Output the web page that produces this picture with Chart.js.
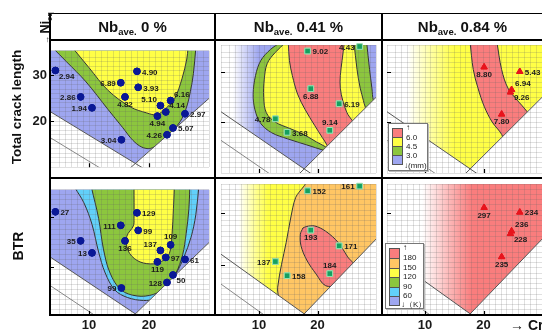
<!DOCTYPE html>
<html lang="en">
<head>
<meta charset="UTF-8">
<title>Total crack length and BTR maps</title>
<script src="https://cdn.jsdelivr.net/npm/chart.js"></script>
<style>
  body { margin: 0; width: 542px; height: 331px; overflow: hidden; position: relative; background: #fff;
         font-family: "Liberation Sans", Arial, sans-serif; color: #111; }
  canvas { position: absolute; z-index: 1; }
  .rule { position: absolute; background: #000; z-index: 2; }
  .head { position: absolute; top: 14px; height: 25px; line-height: 25px; text-align: center;
          font-weight: bold; font-size: 15px; z-index: 2; }
  .head sub { font-size: 9.5px; vertical-align: -3px; line-height: 0; }
  .vt { position: absolute; transform: rotate(-90deg); white-space: nowrap; font-weight: bold;
        text-align: center; z-index: 2; }
  .vt sub { font-size: 7.5px; vertical-align: -3px; line-height: 0; }
  .key { position: absolute; background: #fff; border: 1px solid #777; box-shadow: 1px 1px 0 #bbb;
         font-size: 8px; z-index: 3; }
  .key .sw { position: absolute; left: 3px; width: 11px; border: 1px solid #555; box-sizing: border-box; }
  .key .tx { position: absolute; left: 17px; line-height: 8px; white-space: nowrap; color: #222; }
</style>
</head>
<body>

<!-- frame -->
<div class="rule" style="left:49px;top:13px;width:493px;height:1px"></div>
<div class="rule" style="left:49px;top:39px;width:493px;height:2px"></div>
<div class="rule" style="left:49px;top:177px;width:493px;height:2px"></div>
<div class="rule" style="left:49px;top:314px;width:493px;height:2px"></div>
<div class="rule" style="left:49px;top:13px;width:2px;height:303px"></div>
<div class="rule" style="left:214px;top:13px;width:2px;height:303px"></div>
<div class="rule" style="left:381px;top:13px;width:2px;height:303px"></div>

<div class="head" style="left:51px;width:163px">Nb<sub>ave.</sub> 0 %</div>
<div class="head" style="left:216px;width:165px">Nb<sub>ave.</sub> 0.41 %</div>
<div class="head" style="left:383px;width:159px">Nb<sub>ave.</sub> 0.84 %</div>

<div class="vt" style="left:-53px;top:99px;width:140px;height:16px;line-height:16px;font-size:13.5px">Total crack length</div>
<div class="vt" style="left:27px;top:21px;width:36px;height:14px;line-height:14px;font-size:12.5px"><span style="font-size:8px">&rarr;</span>&thinsp;Ni<sub>eq</sub></div>
<div class="vt" style="left:-2px;top:238px;width:40px;height:16px;line-height:16px;font-size:14px">BTR</div>
<div style="position:absolute;left:510px;top:317px;font-weight:bold;font-size:14px;white-space:nowrap;z-index:2">&rarr; Cr<sub style="font-size:9px">eq</sub></div>

<!-- colour keys -->
<div class="key" style="left:388px;top:123px;width:38px;height:46px">
  <span class="sw" style="top:4px;height:10px;background:rgb(250,125,125)"></span>
  <span class="sw" style="top:13px;height:10px;background:rgb(255,255,70)"></span>
  <span class="sw" style="top:22px;height:10px;background:rgb(140,198,62)"></span>
  <span class="sw" style="top:31px;height:10px;background:rgb(158,166,240)"></span>
  <span class="tx" style="top:0px">&uarr;</span>
  <span class="tx" style="top:10px">6.0</span>
  <span class="tx" style="top:19px">4.5</span>
  <span class="tx" style="top:28px">3.0</span>
  <span class="tx" style="top:38px;left:15px">&darr;(mm)</span>
</div>
<div class="key" style="left:385px;top:243px;width:37px;height:64px">
  <span class="sw" style="top:4px;height:11px;background:rgb(250,125,125)"></span>
  <span class="sw" style="top:14px;height:11px;background:rgb(255,198,100)"></span>
  <span class="sw" style="top:24px;height:10px;background:rgb(255,255,70)"></span>
  <span class="sw" style="top:33px;height:11px;background:rgb(140,198,62)"></span>
  <span class="sw" style="top:43px;height:10px;background:rgb(98,208,250)"></span>
  <span class="sw" style="top:52px;height:10px;background:rgb(158,166,240)"></span>
  <span class="tx" style="top:0px">&uarr;</span>
  <span class="tx" style="top:10px">180</span>
  <span class="tx" style="top:20px">150</span>
  <span class="tx" style="top:29px">120</span>
  <span class="tx" style="top:39px">90</span>
  <span class="tx" style="top:48px">60</span>
  <span class="tx" style="top:57px;left:15px">&darr;（K）</span>
</div>

<script>
// axes
const creqRange = [3.5, 30];
const nieqRangeCrack = [9.9, 35.4];
const nieqRangeBtr = [10.5, 35.5];
const creqTicks = [10, 20];
const nieqTicks = [20, 30];

// specimens, Nb 0 %
const creqNb0 = [4.4, 8.6, 10.5, 15.3, 18.0, 18.2, 16.0, 21.9, 23.6, 22.8, 21.4, 26.0, 24.0, 23.0, 15.4];
const nieqNb0 = [31.1, 25.3, 22.9, 28.4, 30.9, 27.4, 25.3, 23.4, 24.5, 22.0, 21.1, 21.6, 18.5, 17.0, 15.9];
const crackNb0 = [2.94, 2.86, 1.94, 6.89, 4.90, 3.93, 4.82, 5.10, 6.16, 4.14, 4.94, 2.97, 5.07, 4.26, 3.04];
const btrNb0 = [27, 35, 13, 111, 129, 99, 136, 137, 109, 97, 119, 61, 50, 128, 99];

// specimens, Nb 0.41 %
const creqNb041 = [18.3, 27.2, 18.85, 23.7, 12.8, 14.8, 22.1];
const nieqNb041 = [34.2, 35.1, 26.7, 23.7, 20.7, 18.0, 18.4];
const crackNb041 = [9.02, 4.43, 6.88, 6.19, 4.78, 3.68, 9.14];
const btrNb041 = [152, 161, 193, 171, 137, 158, 184];

// specimens, Nb 0.84 %
const creqNb084 = [20.1, 26.2, 24.8, 24.6, 23.1];
const nieqNb084 = [31.0, 30.1, 26.5, 26.0, 21.6];
const crackNb084 = [8.80, 5.43, 6.94, 9.26, 7.80];
const btrNb084 = [297, 234, 236, 228, 235];

// limit lines of the diagram and the area they close off
const vRegion = [[3, 22.5], [17.7, 10.7], [30.5, 25.55], [30.5, 40], [3, 40]];
const belowV = [[3, 22.5], [17.7, 10.7], [30.5, 25.55], [30.5, 0], [3, 0]];
const armLeft = [[3, 22.5], [19.5, 9.3]];
const armRight = [[16.5, 9.3], [30.5, 25.55]];
const guideLine = [[3, 16.8], [15, 7.2]];

// contour boundaries [Cr_eq, Ni_eq]
const tlGreen = [[4.0, 36], [6.25, 33.0], [9.5, 28.6], [13.2, 22.5], [15.6, 18.6], [17.3, 15.8], [18.8, 14.3], [20.2, 14.0], [21.5, 14.9], [22.8, 16.5], [24.0, 18.0], [25.2, 19.9], [26.2, 22.8], [26.9, 26.5], [27.4, 30.4], [27.8, 36]];
const tlYellow = [[7.3, 36], [10.0, 31.7], [13.2, 26.7], [16.9, 23.1], [19.6, 21.8], [21.3, 21.4], [22.9, 22.9], [24.3, 25.0], [25.5, 29.3], [26.3, 33.6], [26.5, 36]];

const tmGreen = [[13.8, 36], [11.95, 34.5], [10.3, 32.3], [9.4, 29.3], [9.0, 25.6], [9.3, 22.5], [10.3, 19.75], [12.2, 17.9], [14.9, 16.7], [18.15, 15.5], [21.1, 14.4], [25, 13], [30.5, 22], [29.56, 24.35], [29.3, 26.8], [28.9, 30.5], [28.4, 36]];
const tmYellow = [[14.65, 36], [12.76, 33.9], [11.4, 31.7], [10.9, 28.6], [10.8, 25.0], [11.25, 21.9], [12.76, 20.06], [15.2, 18.8], [17.6, 17.6], [19.8, 16.1], [21.4, 15.1], [24, 13], [28.5, 20], [27.84, 24.35], [27.3, 26.8], [26.76, 30.5], [26.23, 36]];
const tmRed = [[15.0, 36], [15.2, 32.3], [15.7, 29.3], [16.6, 25.6], [17.9, 22.5], [19.5, 19.4], [20.8, 17.0], [21.6, 15.5], [22.3, 13.5], [26.5, 18.5], [25.0, 22.0], [24.3, 24.4], [23.9, 26.8], [23.9, 29.3], [24.2, 32.3], [24.6, 36]];

const trRed = [[17.7, 36], [18.25, 30.5], [19.06, 26.8], [20.14, 23.1], [21.48, 20.06], [23.1, 17.6], [24, 15], [28.5, 20], [27.4, 22.2], [25.8, 24.35], [24.18, 26.8], [23.1, 30.5], [22.29, 36]];

const blCyan = [[7.6, 36], [9.15, 32.9], [10.5, 28.6], [11.6, 23.1], [12.7, 18.9], [14.3, 15.5], [16.4, 14.0], [19.1, 13.4], [21.0, 13.8], [22.5, 15.5], [23.8, 17.5], [24.8, 19.4], [25.8, 22.0], [27.0, 26.0], [27.8, 30.5], [28.3, 36]];
const blGreen = [[10.4, 36], [11.6, 29.8], [12.4, 23.7], [13.5, 18.9], [15.35, 15.5], [18.0, 14.3], [20.7, 14.6], [22.9, 16.1], [24.5, 18.9], [25.6, 22.5], [26.2, 26.8], [26.65, 31.7], [26.8, 36]];
const blYellow = [[17.5, 36], [17.5, 29.8], [17.4, 28.3], [16.3, 26.2], [16.5, 23.4], [18.0, 21.4], [20.2, 20.7], [22.1, 21.2], [23.4, 22.8], [23.85, 26.8], [24.07, 31.7], [24.23, 36]];

const bmYellow = [[3, 36], [17.8, 36], [16.26, 32.9], [15.45, 29.2], [14.65, 24.35], [13.84, 20.1], [13.19, 15.8], [13, 12], [3, 12]];
const bmRed = [[17.5, 27.1], [18.15, 27.4], [19.5, 27.5], [21.38, 26.5], [23.53, 24.35], [25.15, 21.6], [26.23, 19.8], [23.53, 16.4], [21.38, 16.1], [19.77, 18.3], [18.15, 21.0], [17.18, 23.7], [17.07, 25.9], [17.5, 27.1]];

// label placement beside each mark
const crackPos0 = ['br', 'l', 'l', 'l', 'r', 'r', 'b', 'tl', 'tr', 'tr', 'b', 'r', 'r', 'l', 'l'];
const btrPos0 = ['r', 'l', 'l', 'l', 'r', 'r', 'b', 'tl', 't', 'r', 'b', 'r', 'br', 'l', 'l'];
const pos041 = ['r', 'l', 'b', 'r', 'l', 'r', 't'];
const pos084 = ['b', 'r', 'tr', 'br', 'b'];

const BLUE = 'rgb(158,166,240)', GREEN = 'rgb(140,198,62)', YELLOW = 'rgb(255,255,70)',
      RED = 'rgb(250,125,125)', ORANGE = 'rgb(255,198,100)', CYAN = 'rgb(98,208,250)';
const FONT = '"Liberation Sans", Arial, sans-serif';

function fadeFill(color, span) {
    return (c) => {
        const ch = c.chart;
        if (!ch.chartArea) return color;
        const sx = ch.scales.x;
        const g = ch.ctx.createLinearGradient(sx.getPixelForValue(span[0]), 0, sx.getPixelForValue(span[1]), 0);
        g.addColorStop(0, '#ffffff');
        g.addColorStop(1, color);
        return g;
    };
}

function poly(pts, color, opt = {}) {
    return {
        data: pts.map(p => ({ x: p[0], y: p[1] })),
        fill: 'shape',
        backgroundColor: opt.fade ? fadeFill(color, opt.fade) : color,
        borderColor: opt.edge === false ? 'rgba(0,0,0,0)' : '#333',
        borderWidth: 1,
        tension: opt.tension ?? 0.35,
        pointRadius: 0
    };
}

function rule(pts, color) {
    return { data: pts.map(p => ({ x: p[0], y: p[1] })), borderColor: color, borderWidth: 1, pointRadius: 0, fill: false, tension: 0 };
}

const marker = {
    circle: { pointStyle: 'circle', pointRadius: 3.3, pointBackgroundColor: '#0a1896', pointBorderColor: '#0a1896' },
    rect: { pointStyle: 'rect', pointRadius: 4, pointBackgroundColor: '#14a060', pointBorderColor: '#9adfb0' },
    triangle: { pointStyle: 'triangle', pointRadius: 3.6, pointBackgroundColor: '#e8141c', pointBorderColor: '#e8141c' }
};

// marks are redrawn over the grid, with their values beside them; short inner ticks on the frame
const markLabels = {
    id: 'markLabels',
    afterDraw(chart) {
        const idx = chart.data.datasets.findIndex(d => d.isMarks);
        const ds = chart.data.datasets[idx];
        const meta = chart.getDatasetMeta(idx);
        const ctx = chart.ctx;
        const area = chart.chartArea;
        const {x: sx, y: sy} = chart.scales;
        ctx.save();
        ctx.strokeStyle = '#000';
        ctx.lineWidth = 1.2;
        ctx.beginPath();
        creqTicks.forEach(v => {
            const px = Math.round(sx.getPixelForValue(v)) + 0.5;
            ctx.moveTo(px, area.bottom);
            ctx.lineTo(px, area.bottom - 4);
        });
        nieqTicks.forEach(v => {
            const py = Math.round(sy.getPixelForValue(v)) + 0.5;
            ctx.moveTo(area.left, py);
            ctx.lineTo(area.left + 4, py);
        });
        ctx.stroke();

        meta.data.forEach(pt => pt.draw(ctx));
        ctx.font = 'bold 8px ' + FONT;
        ctx.fillStyle = '#1c1c1c';
        ctx.textBaseline = 'middle';
        meta.data.forEach((pt, i) => {
            const pos = ds.tagPos[i];
            let dx = 0, dy = 0, align = 'center';
            if (pos.includes('r')) { dx = 5; align = 'left'; }
            if (pos.includes('l')) { dx = -5; align = 'right'; }
            if (pos === 't') dy = -8;
            else if (pos === 'b') dy = 8;
            else if (pos.includes('t')) { dy = -6; dx *= 0.7; }
            else if (pos.includes('b')) { dy = 6; dx *= 0.7; }
            else dy = 1;
            ctx.textAlign = align;
            ctx.fillText(ds.tags[i], pt.x + dx, pt.y + dy);
        });
        ctx.restore();
    }
};

function panel(cfg) {
    const canvas = document.createElement('canvas');
    canvas.width = cfg.w;
    canvas.height = cfg.h;
    canvas.style.left = cfg.left + 'px';
    canvas.style.top = cfg.top + 'px';
    document.body.appendChild(canvas);

    const layers = [poly(vRegion, cfg.base, { fade: cfg.baseFade, edge: false, tension: 0 })];
    cfg.zones.forEach(z => layers.push(poly(z.pts, z.color, { fade: z.fade })));
    layers.push(poly(belowV, '#ffffff', { edge: false, tension: 0 }));
    layers.push(rule(armLeft, '#555'), rule(armRight, '#555'), rule(guideLine, '#8a8a8a'));
    layers.push(Object.assign({
        data: cfg.xs.map((x, i) => ({ x, y: cfg.ys[i] })),
        showLine: false,
        pointBorderWidth: 1,
        isMarks: true,
        tags: cfg.tags,
        tagPos: cfg.tagPos
    }, marker[cfg.marker]));
    layers.forEach((d, i) => { d.order = layers.length - i; });

    const tickFont = { family: FONT, size: 13, weight: 'bold' };
    const gridColor = 'rgba(100,100,100,0.2)';

    new Chart(canvas, {
        type: 'line',
        data: { datasets: layers },
        options: {
            responsive: false,
            animation: false,
            events: [],
            layout: { padding: 0 },
            plugins: { legend: { display: false }, tooltip: { enabled: false } },
            scales: {
                x: {
                    type: 'linear', min: creqRange[0], max: creqRange[1],
                    afterFit: s => { s.height = cfg.xLabels ? 16 : 0; },
                    border: { display: false },
                    grid: { color: gridColor, drawTicks: false, z: 1 },
                    ticks: {
                        display: cfg.xLabels, stepSize: 1, autoSkip: false, minRotation: 0, maxRotation: 0,
                        padding: 3, color: '#1a1a1a', font: tickFont,
                        callback: v => creqTicks.includes(v) ? String(v) : ''
                    }
                },
                y: {
                    type: 'linear', min: cfg.yRange[0], max: cfg.yRange[1],
                    afterFit: s => { s.width = cfg.yLabels ? 50 : 0; },
                    border: { display: false },
                    grid: { color: gridColor, drawTicks: false, z: 1 },
                    ticks: {
                        display: cfg.yLabels, stepSize: 1, autoSkip: false,
                        padding: 3, color: '#1a1a1a', font: tickFont,
                        callback: v => nieqTicks.includes(v) ? String(v) : ''
                    }
                }
            }
        },
        plugins: [markLabels]
    });
}

const cols = [{ left: 0, w: 214, yLabels: true }, { left: 216, w: 165, yLabels: false }, { left: 382, w: 165, yLabels: false }];
const rows = [{ top: 40, h: 138, xLabels: false, yRange: nieqRangeCrack }, { top: 179, h: 152, xLabels: true, yRange: nieqRangeBtr }];

function place(c, r, rest) {
    panel(Object.assign({}, cols[c], rows[r], rest));
}

place(0, 0, { base: BLUE, zones: [{ pts: tlGreen, color: GREEN }, { pts: tlYellow, color: YELLOW }],
    xs: creqNb0, ys: nieqNb0, tags: crackNb0.map(v => v.toFixed(2)), tagPos: crackPos0, marker: 'circle' });
place(1, 0, { base: BLUE, baseFade: [5.5, 10], zones: [{ pts: tmGreen, color: GREEN }, { pts: tmYellow, color: YELLOW }, { pts: tmRed, color: RED }],
    xs: creqNb041, ys: nieqNb041, tags: crackNb041.map(v => v.toFixed(2)), tagPos: pos041, marker: 'rect' });
place(2, 0, { base: YELLOW, baseFade: [7, 15], zones: [{ pts: trRed, color: RED }],
    xs: creqNb084, ys: nieqNb084, tags: crackNb084.map(v => v.toFixed(2)), tagPos: pos084, marker: 'triangle' });
place(0, 1, { base: BLUE, zones: [{ pts: blCyan, color: CYAN }, { pts: blGreen, color: GREEN }, { pts: blYellow, color: YELLOW }],
    xs: creqNb0, ys: nieqNb0, tags: btrNb0.map(String), tagPos: btrPos0, marker: 'circle' });
place(1, 1, { base: ORANGE, zones: [{ pts: bmYellow, color: YELLOW, fade: [6.5, 11.5] }, { pts: bmRed, color: RED }],
    xs: creqNb041, ys: nieqNb041, tags: btrNb041.map(String), tagPos: pos041, marker: 'rect' });
place(2, 1, { base: RED, baseFade: [9.5, 18], zones: [],
    xs: creqNb084, ys: nieqNb084, tags: btrNb084.map(String), tagPos: pos084, marker: 'triangle' });
</script>
</body>
</html>
